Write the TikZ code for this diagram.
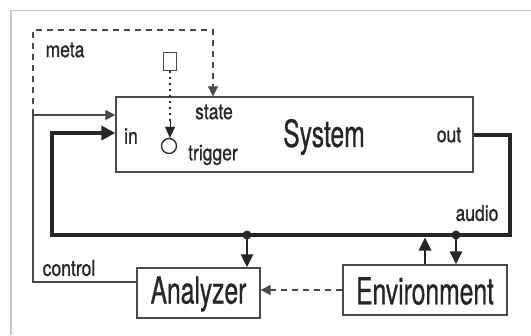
\documentclass[tikz,border=0pt]{standalone}
\usepackage{fontspec}
\setmainfont{TeX Gyre Heros}
\newfontfamily\bigface[FakeStretch=0.66, FakeBold=0.6]{TeX Gyre Heros}
\newfontfamily\smallface[FakeStretch=0.8, FakeBold=0.8]{TeX Gyre Heros}
\usetikzlibrary{arrows.meta}
\definecolor{ink}{HTML}{262626}
\definecolor{edge}{HTML}{4A4A4A}
\tikzset{
  block/.style={draw=edge, line width=1.3bp, inner sep=0pt, fill=white},
  bigtext/.style={font=\bigface\fontsize{37.5}{40}\selectfont, text=ink, inner sep=0pt},
  smalltext/.style={font=\smallface\fontsize{22}{24}\selectfont, text=ink, inner sep=0pt},
  thin/.style={draw=edge, line width=1.3bp},
  heavy/.style={draw=ink, line width=3.6bp},
  tip/.style={-{Triangle[length=10bp, width=10bp]}},
  dot/.style={circle, fill=ink, inner sep=0pt, minimum size=9bp},
  tap/.style={draw=ink, line width=2.8bp, -{Triangle[length=13bp, width=12bp]}},
}
\begin{document}
\begin{tikzpicture}[x=1bp, y=-1bp]
\useasboundingbox (0,0) rectangle (531,335);
\fill[white] (0,0) rectangle (531,335);
% page edge
\draw[black!22, line width=1.6bp] (11,335) -- (11,10.5) -- (531,10.5);

% blocks
\node[block, minimum width=357bp, minimum height=75bp] (sys) at (294.5,134.5) {};
\node[block, minimum width=123bp, minimum height=50bp] (an) at (198.5,293) {};
\node[block, minimum width=164bp, minimum height=50bp] (env) at (425,290) {};
\node[draw=edge, line width=1.2bp, inner sep=0pt, minimum width=13bp, minimum height=18bp] (src) at (170,61.5) {};
\node[draw=ink, line width=1.3bp, circle, inner sep=0pt, minimum size=15bp] (trig) at (169,146) {};

% texts
\node[bigtext] (systxt) at (324,137) {System};
\node[bigtext] (antxt) at (198.5,294) {Analyzer};
\node[bigtext] (envtxt) at (425,291) {Environment};
\node[smalltext] (meta) at (65,50) {meta};
\node[smalltext] (state) at (214,112) {state};
\node[smalltext] (in) at (131,136) {in};
\node[smalltext] (trg) at (213,155) {trigger};
\node[smalltext] (out) at (449,135) {out};
\node[smalltext] (audio) at (477,213) {audio};
\node[smalltext] (control) at (69,268) {control};

% corners of the routing
\coordinate (ctlA) at (137,282);
\coordinate (ctlL) at (33,282);
\coordinate (ctlU) at (33,115);
\coordinate (metaL) at (33,30);
\coordinate (metaR) at (213,30);
\coordinate (outR) at (510,135);
\coordinate (busR) at (510,235);
\coordinate (busL) at (52,235);
\coordinate (inL) at (52,133);
\coordinate (tapA) at (247,235);
\coordinate (tapE) at (456,235);
\coordinate (upE) at (425,237.5);
\coordinate (trigIn) at (170,121);

% meta path (dashed) into the state input
\draw[thin, dashed, dash pattern=on 6bp off 5bp, tip] (ctlU) -- (metaL) -- (metaR) -- (metaR |- sys.north);
% control path from the analyzer
\draw[thin, tip] (ctlA) -- (ctlL) -- (ctlU) -- (ctlU -| sys.west);
% trigger
\draw[draw=ink, line width=1.5bp, dash pattern=on 2bp off 4bp] (src.south) -- (trigIn);
\draw[draw=ink, -{Triangle[length=11bp, width=10bp]}, line width=0.1bp] (trigIn) -- (trigIn |- trig.north);

% audio loop
\draw[heavy, line join=miter, -{Triangle[length=14bp, width=14bp]}] (sys.east |- outR) -- (outR) -- (busR) -- (busL) -- (inL) -- (inL -| sys.west);

% taps onto the bus
\node[dot] (dA) at (tapA) {};
\node[dot] (dE) at (tapE) {};
\draw[tap] (dA.center) -- (dA.center |- an.north);
\draw[tap] (dE.center) -- (dE.center |- env.north);
\draw[tap] (upE |- env.north) -- (upE);

% environment feeds the analyzer
\draw[thin, dashed, dash pattern=on 6bp off 5bp, tip] (env.west) -- (env.west -| an.east);
\end{tikzpicture}
\end{document}
